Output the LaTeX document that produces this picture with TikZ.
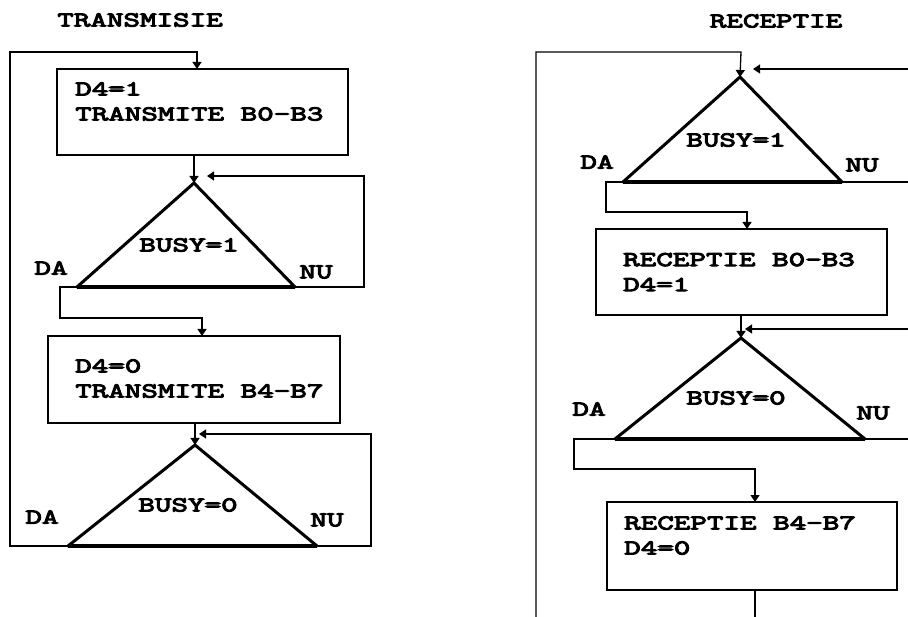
\documentclass[tikz,border=0pt]{standalone}
\usepackage{fontspec}
\usepackage{tikz}
\usetikzlibrary{arrows.meta,positioning,calc}
\newfontfamily\dosfont{Latin Modern Mono}[FakeStretch=1.53,FakeBold=5]
\definecolor{Ink}{HTML}{000000}
\tikzset{
  >={Triangle[length=7pt,width=9pt]},
  txt/.style={font=\dosfont\fontsize{21}{25}\selectfont,text=Ink,inner sep=0pt},
  lines/.style={txt,align=left,anchor=west},
  box/.style={draw=Ink,line width=1.3pt,rectangle,inner sep=0pt},
  flow/.style={draw=Ink,line width=1.3pt},
  side/.style={draw=Ink,line width=3pt,line cap=round},
  base/.style={draw=Ink,line width=4pt}
}
\begin{document}
\begin{tikzpicture}[x=1pt,y=-1pt]
        \useasboundingbox[fill=white] (0,0) rectangle (908,617);

        \node[txt] (ttx) at (140,20) {TRANSMISIE};
        \node[txt] (trx) at (776,21) {RECEPTIE};

        \node[box,minimum width=291pt,minimum height=86pt] (b1) at (202.5,112) {};
        \node[lines] (b1t) at (75,101.5) {D4=1\\TRANSMITE B0-B3};
        \node[box,minimum width=292pt,minimum height=87pt] (b2) at (194,379.5) {};
        \node[lines] (b2t) at (75,378.5) {D4=0\\TRANSMITE B4-B7};
        \node[box,minimum width=291pt,minimum height=86pt] (b3) at (741.5,272) {};
        \node[lines] (b3t) at (623,272) {RECEPTIE B0-B3\\D4=1};
        \node[box,minimum width=290pt,minimum height=88pt] (b4) at (752,546) {};
        \node[lines] (b4t) at (624,535.5) {RECEPTIE B4-B7\\D4=0};

        \coordinate (t1a) at (194,183);
        \coordinate (t1l) at (77,287);
        \coordinate (t1r) at (295,287);
        \coordinate (t2a) at (195,445);
        \coordinate (t2l) at (68,546);
        \coordinate (t2r) at (317,546);
        \coordinate (t3a) at (740,77);
        \coordinate (t3l) at (623,182);
        \coordinate (t3r) at (842,182);
        \coordinate (t4a) at (741,338);
        \coordinate (t4l) at (615,439);
        \coordinate (t4r) at (865,439);

        \foreach \t in {t1,t2,t3,t4} {
          \draw[side] (\t l)--(\t a)--(\t r);
          \draw[base] (\t l)--(\t r);
        }

        \node[txt] (c1) at (189,245) {BUSY=1};
        \node[txt] (c2) at (188,505) {BUSY=0};
        \node[txt] (c3) at (736,140) {BUSY=1};
        \node[txt] (c4) at (736,398) {BUSY=0};
        \node[txt] (da1) at (51,268) {DA};
        \node[txt] (nu1) at (316,272) {NU};
        \node[txt] (da2) at (42,517) {DA};
        \node[txt] (nu2) at (327,520) {NU};
        \node[txt] (da3) at (597,162) {DA};
        \node[txt] (nu3) at (862,165) {NU};
        \node[txt] (da4) at (589,409) {DA};
        \node[txt] (nu4) at (873,413) {NU};

        \coordinate (b1in) at (197,69);
        \coordinate (b2in) at (202,336);
        \coordinate (b3in) at (747,229);
        \coordinate (b4in) at (755,502);
        \coordinate (r1in) at (207,176);
        \coordinate (r2in) at (199,434);
        \coordinate (r3in) at (753,69);
        \coordinate (r4in) at (745,329);
        \coordinate (e3in) at (908,69);
        \coordinate (e3out) at (908,182);
        \coordinate (e4in) at (908,329);
        \coordinate (e4out) at (908,439);
        \coordinate (rtop) at (536,617);
        \coordinate (rbot) at (755,617);

        \draw[flow,->] (b1.south -| t1a)--(t1a);
        \draw[flow,->] (b2.south -| t2a)--(t2a);
        \draw[flow,->] (b3.south -| t4a)--(t4a);

        \draw[flow,->] (t1r)-|(364,176)--(r1in);
        \draw[flow,->] (t2r)-|(371,434)--(r2in);
        \draw[flow,->] (t1l)--++(-17,0)|-(202,318)--(b2in);
        \draw[flow,->] (t2l)-|(10,52)-|(b1in);

        \draw[flow,->] (rtop)|-(741,52)--(t3a);
        \draw[flow,->] (e3in)--(r3in);
        \draw[flow] (t3r)--(e3out);
        \draw[flow,->] (t3l)--++(-17,0)|-(747,212)--(b3in);
        \draw[flow,->] (e4in)--(r4in);
        \draw[flow] (t4r)--(e4out);
        \draw[flow,->] (t4l)--++(-41,0)|-(755,469)--(b4in);
        \draw[flow] (b4.south -| rbot)--(rbot);
      \end{tikzpicture}
\end{document}
